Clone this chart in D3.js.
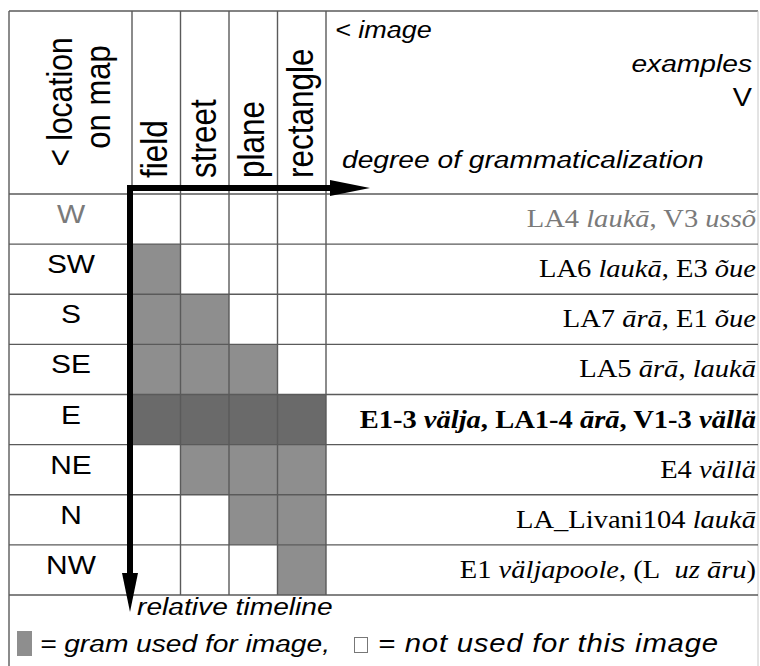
<!DOCTYPE html>
<html><head><meta charset="utf-8">
<script src="https://cdn.jsdelivr.net/npm/d3@7"></script>
<style>html,body{margin:0;padding:0;background:#fff;}</style>
</head><body>
<svg id="chart" width="760" height="666"></svg>
<script>
// ---- data ----
const images = ["field", "street", "plane", "rectangle"];
const locations = ["W", "SW", "S", "SE", "E", "NE", "N", "NW"];
// 0 = not used, 1 = used, 2 = used (core area, darker)
const usage = [
  [0, 0, 0, 0],
  [1, 0, 0, 0],
  [1, 1, 0, 0],
  [1, 1, 1, 0],
  [2, 2, 2, 2],
  [0, 1, 1, 1],
  [0, 0, 1, 1],
  [0, 0, 0, 1]
];
// example segments: [text, italic]
const examples = [
  [["LA4 ", 0], ["laukā", 1], [", V3 ", 0], ["ussõ", 1]],
  [["LA6 ", 0], ["laukā", 1], [", E3 ", 0], ["õue", 1]],
  [["LA7 ", 0], ["ārā", 1], [", E1 ", 0], ["õue", 1]],
  [["LA5 ", 0], ["ārā", 1], [", ", 0], ["laukā", 1]],
  [["E1-3 ", 0], ["välja", 1], [", LA1-4 ", 0], ["ārā", 1], [", V1-3 ", 0], ["vällä", 1]],
  [["E4 ", 0], ["vällä", 1]],
  [["LA_Livani104 ", 0], ["laukā", 1]],
  [["E1 ", 0], ["väljapoole", 1], [", (L\u00a0\u00a0", 0], ["uz āru", 1], [")", 0]]
];
const rowStyle = ["gray", "normal", "normal", "normal", "bold", "normal", "normal", "normal"];
const legendUsed = "= gram used for image,";
const legendNotUsed = "= not used for this image";

// ---- layout ----
const svg = d3.select("#chart");
const L = 9, T = 11, R = 758, headerB = 194, tableB = 595;
const colL = 132, colR = 326;
const SX = 1.15;
const sans = "'Liberation Sans', Arial, sans-serif";
const serif = "'Liberation Serif', 'Times New Roman', serif";
const gridC = "#5a5a5a";

const x = d3.scaleBand().domain(images).range([colL, colR]);
const y = d3.scaleBand().domain(locations).range([headerB, tableB]);
const fillC = d3.scaleOrdinal().domain([1, 2]).range(["#8e8e8e", "#6a6a6a"]);

// cells
const cells = [];
usage.forEach((r, i) => r.forEach((v, j) => { if (v) cells.push({loc: locations[i], img: images[j], v}); }));
svg.append("g").selectAll("rect").data(cells).join("rect")
  .attr("x", d => x(d.img)).attr("y", d => y(d.loc))
  .attr("width", x.bandwidth()).attr("height", y.bandwidth())
  .attr("fill", d => fillC(d.v));

// grid
const g = svg.append("g").attr("stroke", gridC).attr("stroke-width", 1.4).attr("fill", "none");
g.append("line").attr("x1", L).attr("x2", L).attr("y1", T).attr("y2", 680);
g.append("line").attr("x1", L).attr("x2", R).attr("y1", T).attr("y2", T);
g.append("line").attr("x1", R).attr("x2", R).attr("y1", T).attr("y2", 680).attr("stroke", "#c8c8c8").attr("stroke-width", 1);
const hLines = [headerB].concat(locations.map(l => y(l) + y.bandwidth()));
g.selectAll("line.h").data(hLines).join("line").attr("class", "h")
  .attr("x1", L).attr("x2", R).attr("y1", d => d).attr("y2", d => d);
const vLines = images.map(c => x(c)).concat([colR]);
g.selectAll("line.v").data(vLines).join("line").attr("class", "v")
  .attr("x1", d => d).attr("x2", d => d).attr("y1", T).attr("y2", tableB);

// text helpers
function htext(tx, ty, str, opt) {
  const t = svg.append("text")
    .attr("transform", `translate(${tx},${ty}) scale(${SX},1)`)
    .attr("font-family", opt.family || sans)
    .attr("font-size", opt.size)
    .attr("font-style", opt.italic ? "italic" : "normal")
    .attr("font-weight", opt.bold ? "bold" : "normal")
    .attr("text-anchor", opt.anchor || "start")
    .attr("fill", opt.fill || "#000");
  if (opt.len) t.attr("textLength", opt.len / SX).attr("lengthAdjust", "spacing");
  if (typeof str === "string") t.text(str);
  return t;
}
function vtext(tx, ty, str, size, anchor) {
  svg.append("text")
    .attr("transform", `translate(${tx},${ty}) scale(${SX},1) rotate(-90)`)
    .attr("font-family", sans).attr("font-size", size)
    .attr("text-anchor", anchor).text(str);
}
vtext(72, 102, "< location", 30, "middle");
vtext(110, 97, "on map", 31, "middle");
images.forEach(c => vtext(x(c) + 35, 178, c, 31.5, "start"));

htext(335, 38, "< image", {size: 23.5, italic: true});
htext(752, 72, "examples", {size: 24.5, italic: true, anchor: "end"});
htext(752, 106, "V", {size: 25, anchor: "end"});
htext(342, 168, "degree of grammaticalization", {size: 24.5, italic: true});

// row labels
locations.forEach((l, i) => {
  htext(71, y(l) + 29, l, {size: 26, anchor: "middle", fill: rowStyle[i] === "gray" ? "#7a7a7a" : "#000"});
});
// examples
examples.forEach((segs, i) => {
  const l = locations[i];
  const t = htext(756, y(l) + 33, null, {size: 24.8, family: serif, anchor: "end",
    bold: rowStyle[i] === "bold", fill: rowStyle[i] === "gray" ? "#7a7a7a" : "#000"});
  t.selectAll("tspan").data(segs).join("tspan")
    .attr("font-style", d => d[1] ? "italic" : "normal")
    .text(d => d[0]);
});

// arrows
const ax = 130, ay = 188;
const arr = svg.append("g");
arr.append("line").attr("x1", ax - 3).attr("x2", 335).attr("y1", ay).attr("y2", ay)
  .attr("stroke", "#000").attr("stroke-width", 6);
arr.append("path").attr("d", d3.line()([[330, ay - 8], [370, ay], [330, ay + 8]])).attr("fill", "#000");
arr.append("line").attr("x1", ax).attr("x2", ax).attr("y1", ay - 3).attr("y2", 578)
  .attr("stroke", "#000").attr("stroke-width", 6);
arr.append("path").attr("d", d3.line()([[ax - 8, 573], [ax, 612], [ax + 8, 573]])).attr("fill", "#000");

htext(137, 615, "relative timeline", {size: 24.5, italic: true});

// legend
svg.append("rect").attr("x", 17).attr("y", 631).attr("width", 15).attr("height", 25).attr("fill", "#8e8e8e");
htext(40, 652, legendUsed, {size: 24.5, italic: true, len: 290});
svg.append("rect").attr("x", 354.5).attr("y", 637.5).attr("width", 13).attr("height", 15)
  .attr("fill", "#fff").attr("stroke", "#777").attr("stroke-width", 1);
htext(378, 652, legendNotUsed, {size: 25.5, italic: true, len: 340});
</script>
</body></html>
